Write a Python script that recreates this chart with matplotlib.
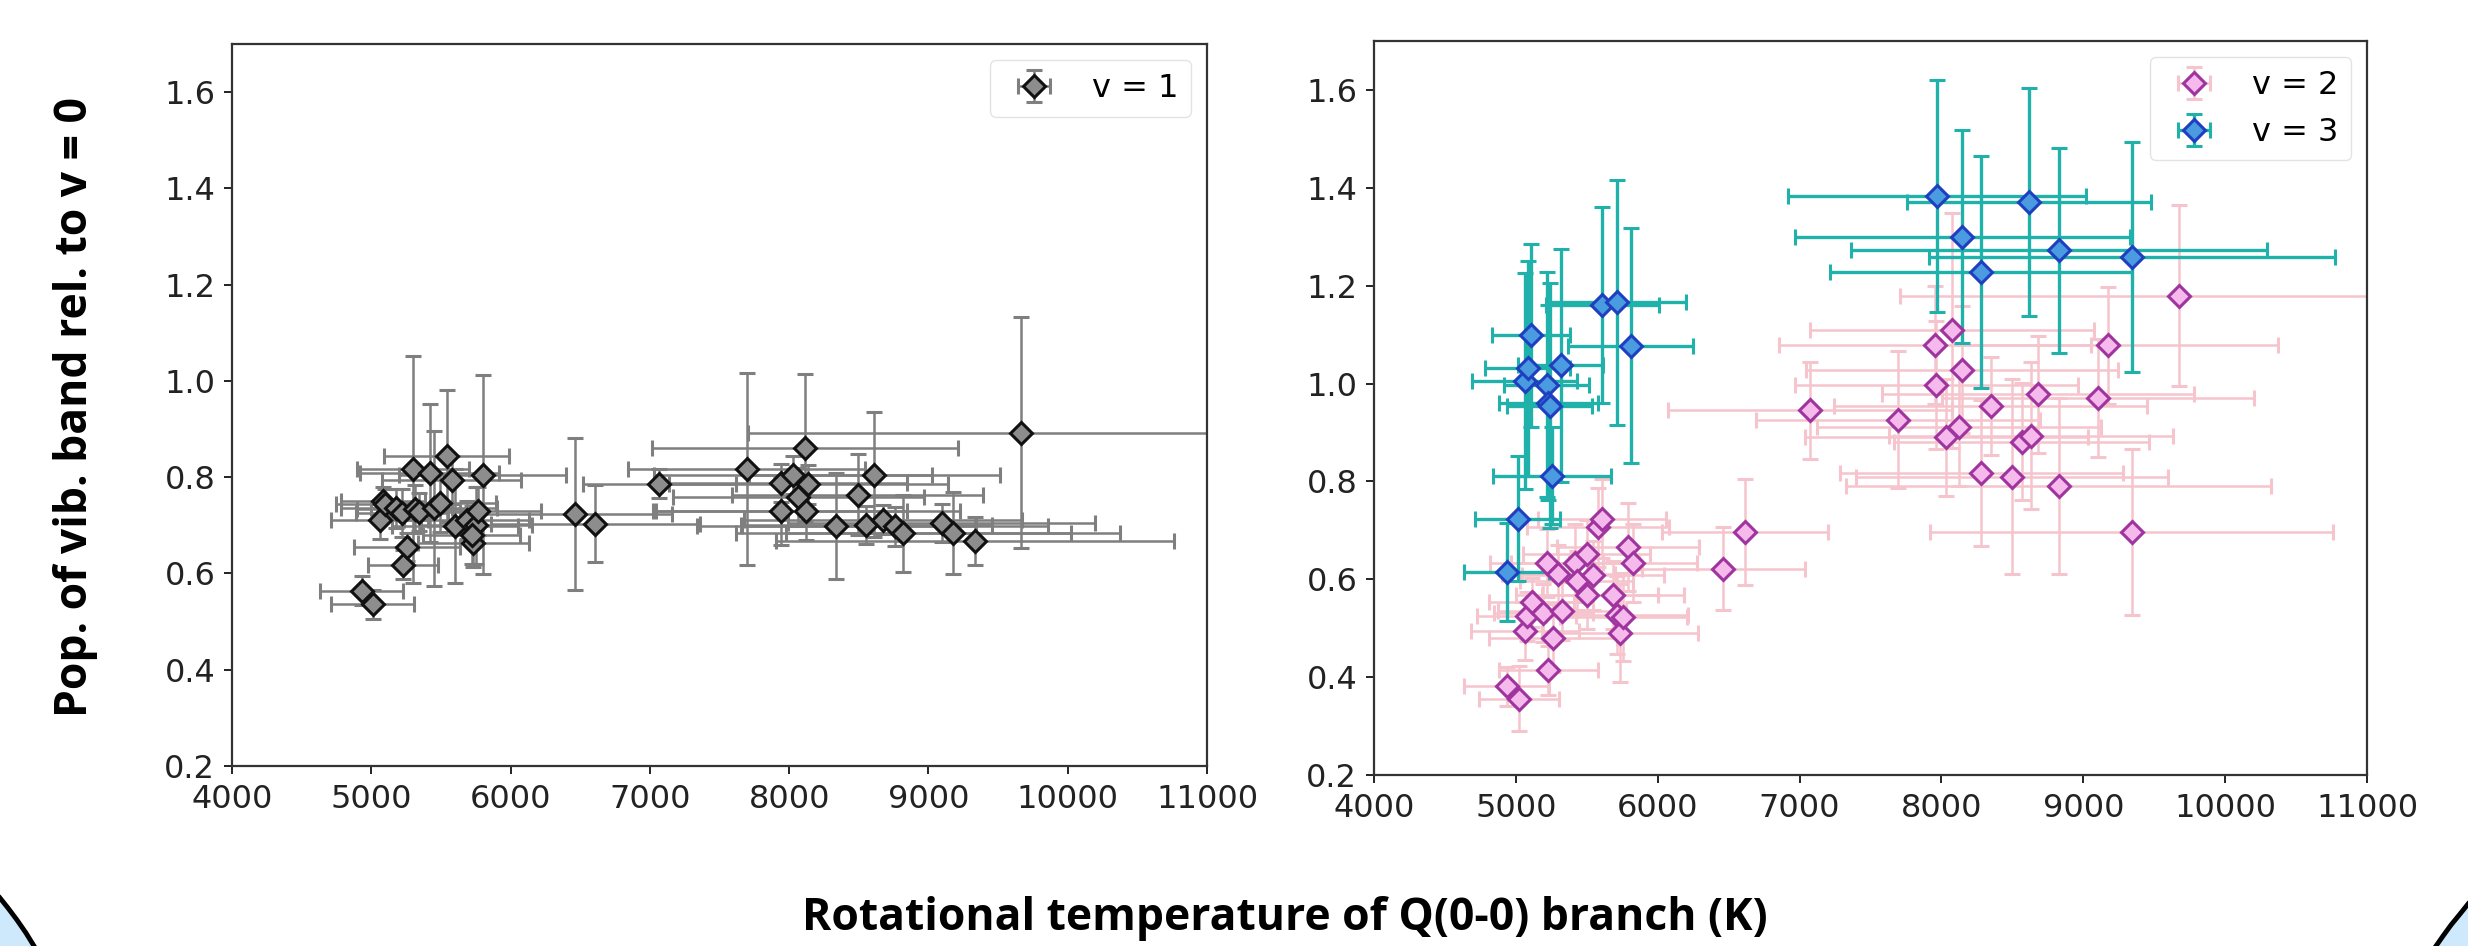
import matplotlib
matplotlib.use('Agg')
import matplotlib.pyplot as plt
from matplotlib.patches import Polygon


# v = 1  (left panel): rotational temperature, population, errors
v1_T = [4930, 5010, 5060, 5085, 5100, 5180, 5230, 5255, 5220, 5300, 5315, 5340,
        5420, 5450, 5495, 5540, 5576, 5600, 5685, 5733, 5755, 5769, 5800, 5720,
        6462, 6609, 7068, 7695, 7945, 7945, 8029, 8065, 8113, 8137, 8124, 8340,
        8491, 8555, 8611, 8675, 8760, 8820, 9095, 9178, 9334, 9664]
v1_pop = [0.564, 0.536, 0.712, 0.750, 0.745, 0.735, 0.618, 0.655, 0.725, 0.816, 0.734, 0.728,
          0.809, 0.735, 0.746, 0.844, 0.795, 0.698, 0.711, 0.663, 0.700, 0.729, 0.805, 0.680,
          0.723, 0.703, 0.786, 0.817, 0.788, 0.729, 0.805, 0.759, 0.861, 0.785, 0.729, 0.699,
          0.764, 0.701, 0.805, 0.712, 0.698, 0.684, 0.705, 0.684, 0.667, 0.892]
v1_Terr = [300, 300, 350, 300, 350, 400, 250, 380, 330, 400, 420, 300,
           500, 450, 400, 450, 500, 450, 450, 400, 400, 450, 600, 350,
           700, 750, 550, 850, 900, 900, 1000, 900, 1100, 1000, 1100, 1000,
           900, 900, 900, 1000, 1100, 1200, 1100, 1200, 1430, 1960]
v1_poperr = [0.03, 0.03, 0.04, 0.03, 0.03, 0.04, 0.03, 0.03, 0.05, 0.235, 0.05, 0.04,
             0.144, 0.16, 0.06, 0.137, 0.05, 0.118, 0.04, 0.05, 0.08, 0.05, 0.207, 0.06,
             0.158, 0.08, 0.03, 0.2, 0.04, 0.07, 0.04, 0.06, 0.153, 0.04, 0.06, 0.11,
             0.085, 0.04, 0.13, 0.03, 0.04, 0.08, 0.04, 0.085, 0.05, 0.24]

# v = 2  (right panel)
v2_T = [4935, 5022, 5064, 5076, 5112, 5194, 5229, 5217, 5264, 5299, 5323, 5417, 5429,
        5499, 5499, 5546, 5581, 5605, 5687, 5711, 5734, 5758, 5793, 5828, 6462, 6615,
        7073, 7692, 7957, 7965, 8035, 8074, 8126, 8146, 8282, 8346, 8497, 8566, 8631,
        8683, 8826, 9106, 9176, 9340, 9677]
v2_pop = [0.381, 0.356, 0.494, 0.524, 0.553, 0.531, 0.414, 0.633, 0.480, 0.611, 0.535, 0.633, 0.597,
          0.651, 0.568, 0.608, 0.706, 0.724, 0.568, 0.527, 0.491, 0.522, 0.666, 0.633, 0.622, 0.696,
          0.945, 0.926, 1.079, 0.997, 0.890, 1.109, 0.911, 1.028, 0.817, 0.954, 0.810, 0.881, 0.893,
          0.978, 0.791, 0.970, 1.078, 0.697, 1.179]
v2_Terr = [300, 280, 380, 350, 300, 350, 350, 400, 450, 400, 450, 450, 400,
           450, 500, 500, 500, 450, 500, 500, 550, 450, 500, 450, 576, 588,
           1000, 1000, 1100, 1000, 1000, 1000, 1000, 1100, 1000, 1100, 1100, 900, 1000,
           1100, 1500, 1100, 1200, 1420, 1970]
v2_poperr = [0.04, 0.066, 0.06, 0.05, 0.05, 0.06, 0.05, 0.07, 0.07, 0.06, 0.06, 0.08, 0.06,
             0.07, 0.07, 0.07, 0.08, 0.08, 0.07, 0.08, 0.1, 0.09, 0.09, 0.08, 0.084, 0.108,
             0.1, 0.14, 0.12, 0.13, 0.12, 0.24, 0.12, 0.13, 0.15, 0.1, 0.2, 0.12, 0.15,
             0.12, 0.18, 0.12, 0.12, 0.17, 0.185]

# v = 3  (right panel)
v3_T = [4935, 5013, 5064, 5083, 5107, 5217, 5229, 5240, 5253, 5316, 5610, 5711, 5810,
        7970, 8146, 8276, 8618, 8826, 9340]
v3_pop = [0.615, 0.724, 1.005, 1.031, 1.099, 0.998, 0.961, 0.955, 0.812, 1.037, 1.160, 1.166, 1.077,
          1.383, 1.300, 1.227, 1.371, 1.272, 1.259]
v3_Terr = [300, 300, 370, 300, 277, 300, 350, 300, 415, 300, 400, 490, 440,
           1050, 1180, 1064, 860, 1466, 1431]
v3_poperr = [0.10, 0.128, 0.22, 0.22, 0.187, 0.23, 0.2, 0.25, 0.1, 0.238, 0.2, 0.25, 0.24,
             0.237, 0.218, 0.237, 0.232, 0.21, 0.235]

x_ticks = [4000, 5000, 6000, 7000, 8000, 9000, 10000, 11000]
y_ticks = [0.2, 0.4, 0.6, 0.8, 1.0, 1.2, 1.4, 1.6]

W, H = 2468, 946
fig = plt.figure(figsize=(W / 100, H / 100), dpi=100)


def px_axes(x0, y0, x1, y1):
    return fig.add_axes([x0 / W, 1 - y1 / H, (x1 - x0) / W, (y1 - y0) / H])


ax1 = px_axes(232, 44, 1207, 766)
ax2 = px_axes(1374, 41, 2367, 775)

ms = 11.5
ax1.errorbar(v1_T, v1_pop, xerr=v1_Terr, yerr=v1_poperr, fmt='D', ms=ms, mfc='#8d8d8d',
             mec='#111111', mew=2.2, ecolor='#7f7f7f', elinewidth=1.8, capsize=5.5, capthick=1.8,
             label='v = 1')

ax2.errorbar(v2_T, v2_pop, xerr=v2_Terr, yerr=v2_poperr, fmt='D', ms=ms, mfc='#f6b9ec',
             mec='#a0349e', mew=2.2, ecolor='#f5c4cc', elinewidth=1.8, capsize=5.5, capthick=1.8,
             label='v = 2')
ax2.errorbar(v3_T, v3_pop, xerr=v3_Terr, yerr=v3_poperr, fmt='D', ms=ms, mfc='#4a9be0',
             mec='#1d3fc0', mew=2.2, ecolor='lightseagreen', elinewidth=2.4, capsize=5.5,
             capthick=2.4, label='v = 3')

for ax in (ax1, ax2):
    ax.set_xlim(4000, 11000)
    ax.set_ylim(0.2, 1.7)
    ax.set_xticks(x_ticks)
    ax.set_yticks(y_ticks)
    ax.tick_params(axis='both', labelsize=23, length=6, width=1.4, colors='#222222')
    ax.tick_params(axis='x', pad=7)
    ax.tick_params(axis='y', pad=6)
    for s in ax.spines.values():
        s.set_linewidth(1.6)
        s.set_color('#333333')
    ax.legend(loc='upper right', fontsize=23, edgecolor='#dddddd')

xlab = fig.text(1285 / W, 1 - 918 / H, 'Rotational temperature of Q(0-0) branch (K)',
                ha='center', va='center', fontsize=27, fontweight='bold', family='Open Sans')
ylab = fig.text(76 / W, 1 - 407 / H, 'Pop. of vib. band rel. to v = 0', rotation=90,
                ha='center', va='center', fontsize=27, fontweight='bold', family='Open Sans')

# scale the two bold labels to the lengths they have on the slide
renderer = fig.canvas.get_renderer()
w = xlab.get_window_extent(renderer).width
xlab.set_fontsize(27 * 965 / w)
h = ylab.get_window_extent(renderer).height
ylab.set_fontsize(27 * 620 / h)

# slide decorations in the bottom corners
left_curve = [(0, 898), (8, 908), (17, 920), (26, 933), (34, 946)]
right_curve = [(2468, 904), (2460, 914), (2451, 925), (2443, 936), (2436, 946)]
for curve, corner in ((left_curve, (0, 946)), (right_curve, (2468, 946))):
    pts = [(x / W, 1 - y / H) for x, y in curve + [corner]]
    fig.add_artist(Polygon(pts, closed=True, transform=fig.transFigure,
                           facecolor='#cde9fb', edgecolor='none'))
    xs = [x / W for x, y in curve]
    ys = [1 - y / H for x, y in curve]
    fig.add_artist(plt.Line2D(xs, ys, transform=fig.transFigure, color='black', lw=3.5))

fig.savefig('out.png', dpi=100)
